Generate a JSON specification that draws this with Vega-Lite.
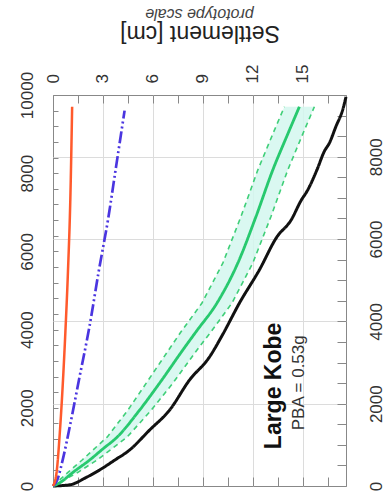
{
  "$schema": "https://vega.github.io/schema/vega-lite/v6.json",
  "width": 293,
  "height": 391,
  "autosize": "none",
  "padding": {"left": 53, "top": 95, "right": 39, "bottom": 14},
  "background": "white",
  "config": {
    "font": "Liberation Sans",
    "view": {"stroke": "#888", "strokeWidth": 1},
    "axis": {"domain": false, "labelColor": "#333", "labelFont": "Liberation Sans", "tickColor": "#888", "gridColor": "#dcdcdc", "titleFont": "Liberation Sans"}
  },
  "title": {"text": "prototype scale", "angle": 180, "baseline": "top", "fontStyle": "italic", "fontSize": 16, "fontWeight": "normal", "color": "#444", "anchor": "middle", "offset": -18, "font": "Liberation Sans"},
  "datasets": {
    "curves": [
      {"series": "measured", "s": 0, "v": 0},
      {"series": "measured", "s": 1.0, "v": 30},
      {"series": "measured", "s": 2.0, "v": 220},
      {"series": "measured", "s": 2.8, "v": 410},
      {"series": "measured", "s": 3.7, "v": 660},
      {"series": "measured", "s": 4.6, "v": 920},
      {"series": "measured", "s": 5.8, "v": 1430},
      {"series": "measured", "s": 7.0, "v": 1940},
      {"series": "measured", "s": 8.2, "v": 2710},
      {"series": "measured", "s": 9.4, "v": 3300},
      {"series": "measured", "s": 10.2, "v": 3880},
      {"series": "measured", "s": 11.2, "v": 4680},
      {"series": "measured", "s": 12.4, "v": 5530},
      {"series": "measured", "s": 13.45, "v": 6370},
      {"series": "measured", "s": 14.3, "v": 6800},
      {"series": "measured", "s": 14.9, "v": 7300},
      {"series": "measured", "s": 15.3, "v": 7570},
      {"series": "measured", "s": 15.85, "v": 8080},
      {"series": "measured", "s": 16.3, "v": 8560},
      {"series": "measured", "s": 16.6, "v": 8770},
      {"series": "measured", "s": 17.0, "v": 9200},
      {"series": "measured", "s": 17.4, "v": 9620},
      {"series": "measured", "s": 17.6, "v": 9950},
      {"series": "predicted", "s": 0, "v": 0},
      {"series": "predicted", "s": 0.4, "v": 80},
      {"series": "predicted", "s": 1.2, "v": 350},
      {"series": "predicted", "s": 2.2, "v": 665},
      {"series": "predicted", "s": 3.0, "v": 950},
      {"series": "predicted", "s": 3.85, "v": 1250},
      {"series": "predicted", "s": 5.2, "v": 1940},
      {"series": "predicted", "s": 6.4, "v": 2630},
      {"series": "predicted", "s": 7.8, "v": 3480},
      {"series": "predicted", "s": 8.6, "v": 3950},
      {"series": "predicted", "s": 9.85, "v": 4680},
      {"series": "predicted", "s": 11.1, "v": 5700},
      {"series": "predicted", "s": 12.2, "v": 6900},
      {"series": "predicted", "s": 13.2, "v": 8080},
      {"series": "predicted", "s": 14.1, "v": 9000},
      {"series": "predicted", "s": 14.8, "v": 9700},
      {"series": "blue", "s": 0, "v": 0},
      {"series": "blue", "s": 0.25, "v": 150},
      {"series": "blue", "s": 0.6, "v": 700},
      {"series": "blue", "s": 1.0, "v": 1500},
      {"series": "blue", "s": 1.6, "v": 2800},
      {"series": "blue", "s": 2.2, "v": 4100},
      {"series": "blue", "s": 2.75, "v": 5500},
      {"series": "blue", "s": 3.3, "v": 6800},
      {"series": "blue", "s": 3.8, "v": 8200},
      {"series": "blue", "s": 4.3, "v": 9600},
      {"series": "orange", "s": 0, "v": 0},
      {"series": "orange", "s": 0.2, "v": 300},
      {"series": "orange", "s": 0.42, "v": 1430},
      {"series": "orange", "s": 0.75, "v": 4000},
      {"series": "orange", "s": 0.9, "v": 5500},
      {"series": "orange", "s": 1.05, "v": 7500},
      {"series": "orange", "s": 1.15, "v": 9700}
    ],
    "band": [
      {"v": 0, "lo": 0, "hi": 0},
      {"v": 350, "lo": 0.9, "hi": 1.5},
      {"v": 665, "lo": 1.75, "hi": 2.65},
      {"v": 1250, "lo": 3.25, "hi": 4.45},
      {"v": 1940, "lo": 4.5, "hi": 5.9},
      {"v": 2630, "lo": 5.6, "hi": 7.2},
      {"v": 3480, "lo": 6.95, "hi": 8.65},
      {"v": 3950, "lo": 7.7, "hi": 9.5},
      {"v": 4680, "lo": 8.95, "hi": 10.75},
      {"v": 5700, "lo": 10.2, "hi": 12.0},
      {"v": 6900, "lo": 11.3, "hi": 13.1},
      {"v": 8080, "lo": 12.3, "hi": 14.1},
      {"v": 9000, "lo": 13.2, "hi": 15.0},
      {"v": 9700, "lo": 13.9, "hi": 15.7}
    ],
    "title1": [{"s": 13.3, "v": 2560, "text": "Large Kobe"}],
    "title2": [{"s": 14.8, "v": 2640, "text": "PBA = 0.53g"}],
    "rightaxis": [{"r": 0}, {"r": 9500}]
  },
  "layer": [
    {
      "data": {"name": "band"},
      "mark": {"type": "area", "orient": "horizontal", "color": "#d3f7ee", "opacity": 0.85},
      "encoding": {
        "y": {"field": "v", "type": "quantitative", "scale": {"domain": [0, 10000], "nice": false, "zero": false},
          "axis": {"orient": "left", "values": [0,400,800,1200,1600,2000,2400,2800,3200,3600,4000,4400,4800,5200,5600,6000,6400,6800,7200,7600,8000,8400,8800,9200,9600,10000],
            "labelExpr": "datum.value % 2000 === 0 ? datum.label : ''", "format": "d", "labelAngle": -90, "labelFontSize": 17, "labelPadding": 22, "tickSize": -5, "grid": false, "title": null, "labelOverlap": false}},
        "x": {"field": "lo", "type": "quantitative", "scale": {"domain": [0, 17.6], "nice": false, "zero": false},
          "axis": {"orient": "top", "values": [0,1.5,3,4.5,6,7.5,9,10.5,12,13.5,15,16.5],
            "labelExpr": "datum.value % 3 === 0 ? datum.label : ''", "labelAngle": -90, "labelFontSize": 17, "labelPadding": 20, "tickSize": -8, "labelOverlap": false,
            "grid": true, "gridOpacity": {"condition": {"test": "datum.value % 3 === 0 && datum.value > 0", "value": 1}, "value": 0},
            "title": "Settlement [cm]", "titleAngle": 180, "titleBaseline": "top", "titleFontSize": 23, "titleFontWeight": "normal", "titleColor": "#222", "titlePadding": 21}},
        "x2": {"field": "hi"}
      }
    },
    {
      "data": {"name": "rightaxis"},
      "mark": {"type": "point", "opacity": 0},
      "encoding": {
        "y": {"field": "r", "type": "quantitative", "scale": {"domain": [0, 9500], "nice": false, "zero": false},
          "axis": {"orient": "right", "values": [0,500,1000,1500,2000,2500,3000,3500,4000,4500,5000,5500,6000,6500,7000,7500,8000,8500,9000,9500],
            "labelExpr": "datum.value % 2000 === 0 ? datum.label : ''", "format": "d", "labelAngle": -90, "labelFontSize": 17, "labelPadding": 31, "tickSize": -9, "labelOverlap": false,
            "grid": true, "gridOpacity": {"condition": {"test": "datum.value % 2000 === 0 && datum.value > 0", "value": 1}, "value": 0}, "title": null}}
      }
    },
    {
      "data": {"name": "band"},
      "mark": {"type": "line", "color": "#3fcf78", "strokeWidth": 1.6, "strokeDash": [5, 4]},
      "encoding": {
        "x": {"field": "lo", "type": "quantitative", "scale": {"domain": [0, 17.6], "nice": false, "zero": false}, "axis": null},
        "y": {"field": "v", "type": "quantitative", "scale": {"domain": [0, 10000], "nice": false, "zero": false}, "axis": null},
        "order": {"field": "v"}
      }
    },
    {
      "data": {"name": "band"},
      "mark": {"type": "line", "color": "#3fcf78", "strokeWidth": 1.6, "strokeDash": [5, 4]},
      "encoding": {
        "x": {"field": "hi", "type": "quantitative", "scale": {"domain": [0, 17.6], "nice": false, "zero": false}, "axis": null},
        "y": {"field": "v", "type": "quantitative", "scale": {"domain": [0, 10000], "nice": false, "zero": false}, "axis": null},
        "order": {"field": "v"}
      }
    },
    {
      "data": {"name": "curves"},
      "mark": {"type": "line", "strokeCap": "butt", "strokeJoin": "round", "interpolate": "monotone"},
      "encoding": {
        "x": {"field": "s", "type": "quantitative", "scale": {"domain": [0, 17.6], "nice": false, "zero": false}, "axis": null},
        "y": {"field": "v", "type": "quantitative", "scale": {"domain": [0, 10000], "nice": false, "zero": false}, "axis": null},
        "order": {"field": "v"},
        "color": {"field": "series", "type": "nominal", "scale": {"domain": ["measured", "predicted", "blue", "orange"], "range": ["#111111", "#27c96e", "#4a35e0", "#ff5a2c"]}, "legend": null},
        "strokeDash": {"field": "series", "type": "nominal", "scale": {"domain": ["measured", "predicted", "blue", "orange"], "range": [[1, 0], [1, 0], [12, 3, 2, 3, 2, 3], [1, 0]]}, "legend": null},
        "strokeWidth": {"field": "series", "type": "nominal", "scale": {"domain": ["measured", "predicted", "blue", "orange"], "range": [3, 2.5, 2.5, 3.5]}, "legend": null}
      }
    },
    {
      "data": {"name": "title1"},
      "mark": {"type": "text", "angle": 270, "align": "center", "baseline": "middle", "fontSize": 23, "fontWeight": "bold", "color": "#111", "font": "Liberation Sans"},
      "encoding": {
        "x": {"field": "s", "type": "quantitative", "scale": {"domain": [0, 17.6], "nice": false, "zero": false},
          "axis": {"orient": "bottom", "values": [1.5,3,4.5,6,7.5,9,10.5,12,13.5,15,16.5], "labels": false, "tickSize": -9, "grid": false, "title": null}},
        "y": {"field": "v", "type": "quantitative", "scale": {"domain": [0, 10000], "nice": false, "zero": false}, "axis": null},
        "text": {"field": "text"}
      }
    },
    {
      "data": {"name": "title2"},
      "mark": {"type": "text", "angle": 270, "align": "center", "baseline": "middle", "fontSize": 17, "color": "#333", "font": "Liberation Sans"},
      "encoding": {
        "x": {"field": "s", "type": "quantitative", "scale": {"domain": [0, 17.6], "nice": false, "zero": false}, "axis": null},
        "y": {"field": "v", "type": "quantitative", "scale": {"domain": [0, 10000], "nice": false, "zero": false}, "axis": null},
        "text": {"field": "text"}
      }
    }
  ],
  "resolve": {"scale": {"y": "independent"}, "axis": {"x": "independent", "y": "independent"}}
}
